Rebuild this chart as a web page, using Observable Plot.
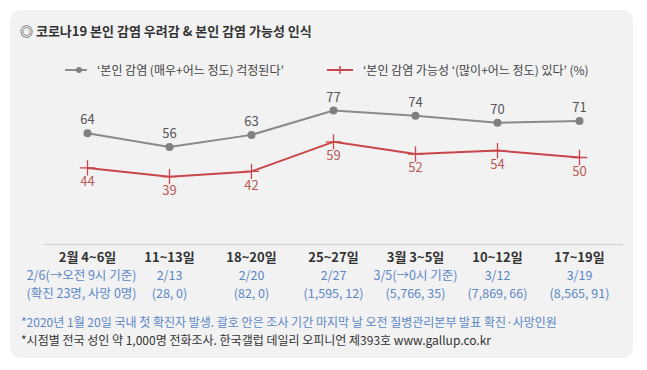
<!DOCTYPE html>
<html><head><meta charset="utf-8">
<script src="https://cdn.jsdelivr.net/npm/d3@7"></script>
<script src="https://cdn.jsdelivr.net/npm/@observablehq/plot@0.6"></script>
<style>
body{margin:0;background:#fff;font-family:"Noto Sans CJK KR","Noto Sans",sans-serif;}
#wrap{position:relative;width:647px;height:370px;overflow:hidden;}
#panel{position:absolute;left:10px;top:10px;width:623px;height:348px;background:#f2f2f2;border-radius:10px;}
#title{position:absolute;left:20px;top:21px;font-size:13px;font-weight:bold;color:#333;white-space:nowrap;}
.leg{position:absolute;top:61px;font-size:12px;color:#444;white-space:nowrap;display:flex;align-items:center;}
.leg svg{margin-right:10px;}
#chart{position:absolute;left:0;top:0;}
.foot{position:absolute;left:21px;font-size:12px;white-space:nowrap;}
</style></head>
<body><div id="wrap">
<div id="panel"></div>
<div id="chart"></div>
<div id="title">◎ 코로나19 본인 감염 우려감 &amp; 본인 감염 가능성 인식</div>
<div class="leg" style="left:65px"><svg width="22" height="10"><line x1="0" y1="5" x2="22" y2="5" stroke="#8c8c8c" stroke-width="2"/><circle cx="14" cy="5" r="3" fill="#808080"/></svg><span id="leg1"></span></div>
<div class="leg" style="left:327px"><svg width="26" height="10"><line x1="0" y1="5" x2="26" y2="5" stroke="#c8474a" stroke-width="2"/><line x1="13" y1="1" x2="13" y2="9" stroke="#c8474a" stroke-width="1.5"/></svg><span id="leg2"></span></div>
<div class="foot" id="f1" style="top:313px;color:#5b87c7"></div>
<div class="foot" id="f2" style="top:331px;color:#333"></div>
</div>
<script>
const periods = ["2월 4~6일","11~13일","18~20일","25~27일","3월 3~5일","10~12일","17~19일"];
const dates = ["2/6(→오전 9시 기준)","2/13","2/20","2/27","3/5(→0시 기준)","3/12","3/19"];
const counts = ["(확진 23명, 사망 0명)","(28, 0)","(82, 0)","(1,595, 12)","(5,766, 35)","(7,869, 66)","(8,565, 91)"];
const worry = [64,56,63,77,74,70,71];
const possible = [44,39,42,59,52,54,50];
const seriesNames = ["‘본인 감염 (매우+어느 정도) 걱정된다’","‘본인 감염 가능성 ‘(많이+어느 정도) 있다’ (%)"];
const notes = ["*2020년 1월 20일 국내 첫 확진자 발생. 괄호 안은 조사 기간 마지막 날 오전 질병관리본부 발표 확진·사망인원",
               "*시점별 전국 성인 약 1,000명 전화조사. 한국갤럽 데일리 오피니언 제393호 www.gallup.co.kr"];

document.getElementById("leg1").textContent = seriesNames[0];
document.getElementById("leg2").textContent = seriesNames[1];
document.getElementById("f1").textContent = notes[0];
document.getElementById("f2").textContent = notes[1];

const rows = periods.map((p,i)=>({p, d:dates[i], c:counts[i], w:worry[i], v:possible[i], i}));
const gray = "#8a8a8a", red = "#c8474a";
const font = "'Noto Sans CJK KR','Noto Sans',sans-serif";
const first = rows.filter(r=>r.i===0), rest = rows.filter(r=>r.i>0);

const chart = Plot.plot({
  width: 647, height: 370,
  marginTop: 70, marginBottom: 126, marginLeft: 43, marginRight: 24,
  style: {background: "transparent", fontFamily: font},
  x: {type: "band", domain: periods, padding: 0, axis: null},
  y: {domain: [0, 100], axis: null},
  marks: [
    Plot.ruleY([0], {stroke: "#d6d6d6", strokeWidth: 1.5}),
    Plot.lineY(rows, {x: "p", y: "w", stroke: gray, strokeWidth: 2}),
    Plot.dot(rows, {x: "p", y: "w", r: 4, fill: "#808080"}),
    Plot.lineY(rows, {x: "p", y: "v", stroke: red, strokeWidth: 2}),
    Plot.dot(rows, {x: "p", y: "v", symbol: "plus", r: 5, stroke: red, strokeWidth: 1.3, fill: "none"}),
    Plot.text(rows, {x: "p", y: "w", text: d=>String(d.w), dy: -13, fill: "#555", fontSize: 13}),
    Plot.text(rows, {x: "p", y: "v", text: d=>String(d.v), dy: 14, fill: "#b85a56", fontSize: 13}),
    Plot.text(rows, {x: "p", text: "p", frameAnchor: "bottom", dy: 17, fill: "#333", fontSize: 13, fontWeight: "bold"}),
    Plot.text(rest, {x: "p", text: "d", frameAnchor: "bottom", dy: 35, fill: "#5b87c7", fontSize: 12.5}),
    Plot.text(rest, {x: "p", text: "c", frameAnchor: "bottom", dy: 53, fill: "#5b87c7", fontSize: 12.5}),
    Plot.text(first, {x: "p", text: "d", frameAnchor: "bottom", dy: 35, dx: -6, fill: "#5b87c7", fontSize: 12.5}),
    Plot.text(first, {x: "p", text: "c", frameAnchor: "bottom", dy: 53, dx: -6, fill: "#5b87c7", fontSize: 12.5})
  ]
});
document.getElementById("chart").appendChild(chart);
</script>
</body></html>
